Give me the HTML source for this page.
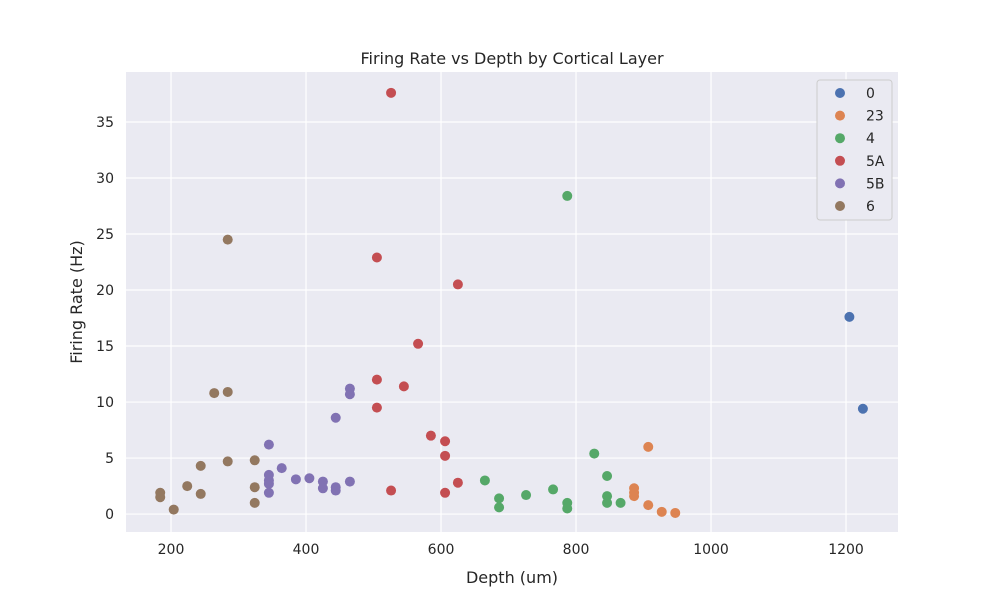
<!DOCTYPE html>
<html><head><meta charset="utf-8"><style>
body{margin:0;background:#fff;font-family:"Liberation Sans","DejaVu Sans",sans-serif}
svg text{fill:#262626;font-family:"DejaVu Sans","Liberation Sans",sans-serif}
</style></head><body>
<svg id="chart" width="1000" height="600" xmlns="http://www.w3.org/2000/svg">
<rect x="0" y="0" width="1000" height="600" fill="#fff"/>
<rect x="126" y="72" width="772" height="460" fill="#eaeaf2"/>
<g id="grid"></g><g id="ticks"></g><g id="points"></g>
<text x="512" y="64" text-anchor="middle" font-size="16">Firing Rate vs Depth by Cortical Layer</text>
<text x="512" y="583" text-anchor="middle" font-size="16">Depth (um)</text>
<text transform="translate(82,302) rotate(-90)" text-anchor="middle" font-size="16">Firing Rate (Hz)</text>
<g id="legend"></g>
</svg>
<script>
const layers=["0","23","4","5A","5B","6"];
const colors=["#4c72b0","#dd8452","#55a868","#c44e52","#8172b3","#937860"];
const depth0=[1205,1225];
const rate0=[17.6,9.4];
const depth23=[907,886,886,886,907,927,947];
const rate23=[6.0,2.3,1.9,1.6,0.8,0.2,0.1];
const depth4=[787,827,665,846,766,726,686,686,846,846,866,787,787];
const rate4=[28.4,5.4,3.0,3.4,2.2,1.7,1.4,0.6,1.6,1.0,1.0,1.0,0.5];
const depth5A=[526,505,625,566,505,545,505,585,606,606,625,526,606];
const rate5A=[37.6,22.9,20.5,15.2,12.0,11.4,9.5,7.0,6.5,5.2,2.8,2.1,1.9];
const depth5B=[465,465,444,345,364,345,345,345,345,385,405,425,425,444,444,465];
const rate5B=[11.2,10.7,8.6,6.2,4.1,3.5,3.0,2.7,1.9,3.1,3.2,2.9,2.3,2.4,2.1,2.9];
const depth6=[284,264,284,324,284,244,224,324,184,184,244,324,204];
const rate6=[24.5,10.8,10.9,4.8,4.7,4.3,2.5,2.4,1.9,1.5,1.8,1.0,0.4];
const xTicks=[200,400,600,800,1000,1200];
const yTicks=[0,5,10,15,20,25,30,35];
const depths=[depth0,depth23,depth4,depth5A,depth5B,depth6];
const rates=[rate0,rate23,rate4,rate5A,rate5B,rate6];
const L=126,R=898,T=72,B=532;
const xMin=133.3,xMax=1277,yMin=-1.6,yMax=39.46;
const X=v=>L+(v-xMin)/(xMax-xMin)*(R-L);
const Y=v=>B-(v-yMin)/(yMax-yMin)*(B-T);
const NS="http://www.w3.org/2000/svg";
function mk(tag,attrs,parent){const e=document.createElementNS(NS,tag);for(const k in attrs)e.setAttribute(k,attrs[k]);parent.appendChild(e);return e;}
const grid=document.getElementById('grid'),ticks=document.getElementById('ticks'),pts=document.getElementById('points'),leg=document.getElementById('legend');
xTicks.forEach(t=>{const x=X(t);
 const l=mk('line',{x1:x,x2:x,y1:T,y2:B,stroke:'#fff','stroke-width':1.2},grid);
 
 
 const s=mk('text',{x:x,y:B+22,'text-anchor':'middle','font-size':14},ticks);s.textContent=t;
 
 
});
yTicks.forEach(t=>{const y=Y(t);
 const l=mk('line',{x1:L,x2:R,y1:y,y2:y,stroke:'#fff','stroke-width':1.2},grid);
 
 
 const s=mk('text',{x:L-12,y:y+5,'text-anchor':'end','font-size':14},ticks);s.textContent=t;
 
 
});
depths.forEach((ds,i)=>{ds.forEach((d,j)=>{
 const c=mk('circle',{cx:X(d),cy:Y(rates[i][j]),r:5,fill:colors[i]},pts);
 
 
});});
const box=mk('rect',{x:817,y:80,width:75,height:140,rx:3,fill:'#eaeaf2',stroke:'#ccc','stroke-width':1},leg);


layers.forEach((n,i)=>{const y=93+i*22.6;
 const c=mk('circle',{cx:840,cy:y,r:5,fill:colors[i]},leg);
 
 
 const s=mk('text',{x:866,y:y+5,'font-size':14},leg);s.textContent=n;
 
 
});
</script>
</body></html>
